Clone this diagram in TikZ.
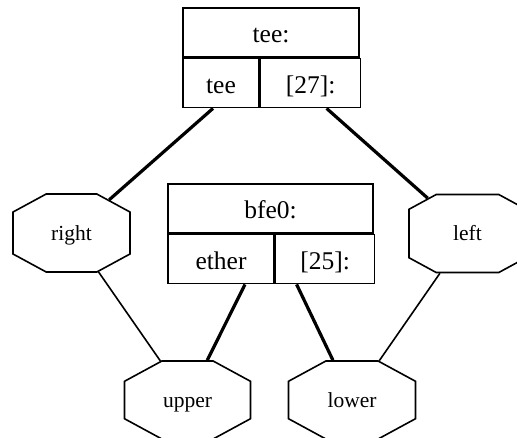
\documentclass[tikz,border=0pt]{standalone}
\usepackage{fontspec}
\setmainfont{Liberation Serif}
\usetikzlibrary{positioning,shapes.misc,calc}

\tikzset{
  cell/.style={draw,line width=1.6pt,inner sep=0pt,minimum height=49pt,
    text height=20pt,text depth=0pt,font=\fontsize{25.5}{30}\selectfont},
  octa/.style={draw,chamfered rectangle,chamfered rectangle angle=61.5,
    line width=1.6pt,inner sep=0pt,text height=14pt,text depth=0pt,
    font=\fontsize{21.5}{26}\selectfont},
  link/.style={line width=1.6pt},
  heavy/.style={line width=3.2pt},
}

\begin{document}
\begin{tikzpicture}[x=1pt,y=-1pt]
\useasboundingbox (0,0) rectangle (517,437);

% record tee
\node[cell,minimum width=176pt] (teehead) at (271,32.5) {tee:};
\node[cell,minimum width=76pt,below right=0pt and 0pt of teehead.south west] (teeport) {tee};
\node[cell,minimum width=100pt,right=0pt of teeport] (tee27) {[27]:};

% record bfe0
\node[cell,minimum width=205pt] (bfehead) at (270.5,208.5) {bfe0:};
\node[cell,minimum width=106pt,below right=0pt and 0pt of bfehead.south west] (etherport) {ether};
\node[cell,minimum width=99pt,right=0pt of etherport] (bfe25) {[25]:};

% octagons
\node[octa,minimum width=117pt,minimum height=78pt,
  chamfered rectangle xsep=35pt,chamfered rectangle ysep=19pt] (rightoct) at (71.5,233) {right};
\node[octa,minimum width=117pt,minimum height=78pt,
  chamfered rectangle xsep=35pt,chamfered rectangle ysep=19pt] (leftoct) at (467.5,233.5) {left};
\node[octa,minimum width=126pt,minimum height=78pt,
  chamfered rectangle xsep=40pt,chamfered rectangle ysep=21pt] (upperoct) at (187.5,400) {upper};
\node[octa,minimum width=127pt,minimum height=78pt,
  chamfered rectangle xsep=41pt,chamfered rectangle ysep=21pt] (loweroct) at (352,400) {lower};

% edges
\draw[heavy] ($(teeport.south)+(-8,0)$) -- (rightoct);
\draw[heavy] ($(tee27.south)+(16,0)$) -- (leftoct);
\draw[link] (rightoct) -- (upperoct);
\draw[link] (leftoct) -- (loweroct);
\draw[heavy] ($(etherport.south)+(24,0)$) -- (upperoct);
\draw[heavy] ($(bfe25.south)+(-28.5,0)$) -- (loweroct);
\end{tikzpicture}
\end{document}
